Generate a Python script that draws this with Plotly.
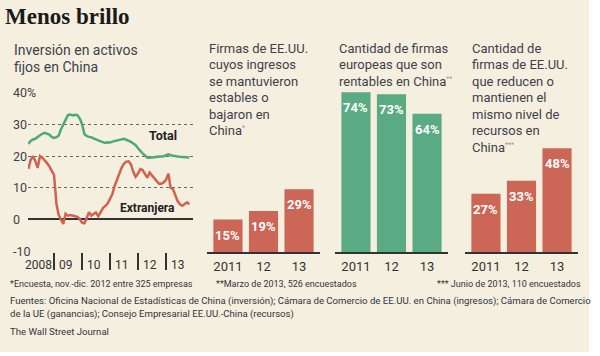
import pandas as pd
import plotly.graph_objects as go

# ---------------- data ----------------
dates = pd.date_range("2008-02-01", periods=70, freq="MS")
total = [23.9, 24.8, 25.3, 25.5, 26.1, 26.7, 27.1, 27.4, 27.1, 26.8, 26.1, 25.8,
         26.0, 26.5, 28.5, 30.0, 32.0, 33.0, 33.2, 32.9, 33.1, 33.0, 32.0, 30.2,
         27.0, 26.4, 26.1, 26.0, 25.6, 25.4, 25.0, 24.7, 24.4, 24.2, 24.4, 24.3,
         24.6, 24.8, 24.9, 25.1, 25.4, 25.5, 25.2, 24.9, 24.5, 24.0, 23.5, 22.5,
         21.5, 20.9, 20.2, 19.6, 19.5, 19.7, 19.7, 19.8, 19.8, 19.9, 20.0, 20.3,
         20.6, 20.3, 20.1, 20.0, 19.9, 19.8, 19.8, 19.8, 19.8, 19.6]
foreign = [16.0, 18.8, 20.0, 18.5, 16.3, 20.0, 19.5, 18.8, 17.8, 16.8, 15.5, 14.0,
           5.0, 1.5, 0.0, -1.4, 1.8, 1.2, 1.4, 1.3, 1.0, 0.8, 0.2, -1.0,
           -1.2, 0.3, 2.3, 1.2, 1.8, 2.2, 1.0, 2.5, 3.6, 4.3, 5.0, 6.5,
           8.0, 10.5, 12.5, 14.5, 16.3, 17.6, 18.3, 18.4, 17.4, 15.0, 13.5, 14.5,
           15.9, 15.6, 14.5, 13.2, 14.8, 13.8, 13.0, 12.1, 11.3, 11.3, 11.7, 12.5,
           14.5, 10.0, 9.6, 7.5, 5.8, 4.8, 4.3, 4.9, 5.4, 4.8]
y_ticks = [-10, 0, 10, 20, 30, 40]
y_tick_text = ["-10", "0", "10", "20", "30", "40%"]
year_ticks = ["2009-01-01", "2010-01-01", "2011-01-01", "2012-01-01", "2013-01-01"]
year_labels = ["09", "10", "11", "12", "13"]
first_year_label = "2008"

bar_years = ["2011", "12", "13"]
us_revenue = [15, 19, 29]
eu_profit = [74, 73, 64]
us_resources = [27, 33, 48]

# ---------------- style ----------------
BG = "#F4EFDE"
GREEN = "#4DA97A"
RED = "#D0634F"
BAR_GREEN = "#5AAA84"
BAR_RED = "#CC6656"
TXT = "#3f3f4e"
SANS = "Roboto, Liberation Sans, Arial, sans-serif"
W, H = 600, 356


def px(x):
    return x / W


def py(y):
    return 1 - y / H


fig = go.Figure()

fig.add_shape(type="rect", xref="paper", yref="paper", x0=0, x1=px(589), y0=py(352), y1=1,
              fillcolor=BG, line_width=0, layer="below")

fig.add_trace(go.Scatter(x=dates, y=total, mode="lines", line=dict(color=GREEN, width=2.5),
                         xaxis="x", yaxis="y", hoverinfo="skip"))
fig.add_trace(go.Scatter(x=dates, y=foreign, mode="lines", line=dict(color=RED, width=2.5),
                         xaxis="x", yaxis="y", hoverinfo="skip"))

fig.add_trace(go.Bar(x=bar_years, y=us_revenue, marker=dict(color=BAR_RED, line_width=0),
                     xaxis="x2", yaxis="y2", hoverinfo="skip"))
fig.add_trace(go.Bar(x=bar_years, y=eu_profit, marker=dict(color=BAR_GREEN, line_width=0),
                     xaxis="x3", yaxis="y3", hoverinfo="skip"))
fig.add_trace(go.Bar(x=bar_years, y=us_resources, marker=dict(color=BAR_RED, line_width=0),
                     xaxis="x4", yaxis="y4", hoverinfo="skip"))

# x range of the line chart (26px = Jan 2008, 28px per year)
day_per_px = 365.25 / 28
t0 = pd.Timestamp("2008-01-01")
xr0 = t0 + pd.Timedelta(days=(28 - 26) * day_per_px)
xr1 = t0 + pd.Timedelta(days=(193 - 26) * day_per_px)

bar_x = dict(type="category", range=[-0.59, 2.59], showline=True, linecolor="#333",
             linewidth=2, ticks="", showgrid=False, zeroline=False,
             tickfont=dict(family=SANS, size=13, color="#333"), ticklabelstandoff=1)
bar_y = dict(range=[0, 80], domain=[py(252), py(252 - 2.16 * 80)], showgrid=False,
             showticklabels=False, zeroline=False, showline=False)

fig.update_layout(
    width=W, height=H, margin=dict(l=0, r=0, t=0, b=0),
    paper_bgcolor="white", plot_bgcolor="rgba(0,0,0,0)", showlegend=False,
    bargap=0.18,
    xaxis=dict(type="date", domain=[px(28), px(193)], range=[xr0, xr1], showgrid=False,
               zeroline=False, showline=False, ticks="outside", tickvals=year_ticks,
               ticklen=17, tickwidth=1.5, tickcolor="#333", showticklabels=False, anchor="y"),
    yaxis=dict(domain=[py(252), py(92)], range=[-10.3, 40.3], tickvals=y_ticks,
               showticklabels=False, gridcolor="#666", griddash="dot", gridwidth=1,
               zeroline=True, zerolinecolor="#333", zerolinewidth=2, anchor="x"),
    xaxis2=dict(domain=[px(207), px(320)], anchor="y2", **bar_x),
    yaxis2=dict(anchor="x2", **bar_y),
    xaxis3=dict(domain=[px(335), px(448)], anchor="y3", **bar_x),
    yaxis3=dict(anchor="x3", **bar_y),
    xaxis4=dict(domain=[px(465), px(578)], anchor="y4", **bar_x),
    yaxis4=dict(anchor="x4", **bar_y),
)

ann = []


def text(x, y, s, size=13, color=TXT, bold=False, family=SANS, xanchor="left", yanchor="middle", bg=None):
    d = dict(xref="paper", yref="paper", x=px(x), y=py(y), text=f"<b>{s}</b>" if bold else s,
             showarrow=False, xanchor=xanchor, yanchor=yanchor,
             font=dict(family=family, size=size, color=color))
    if bg:
        d["bgcolor"] = bg
    ann.append(d)


# title
text(3, 16, "Menos brillo", size=23, color="#1a1a1a", bold=True,
     family="Liberation Serif, DejaVu Serif, serif")

# line chart subtitle
text(12, 50, "Inversión en activos", size=14)
text(12, 67, "fijos en China", size=14)

# y labels for line chart
for v, t in zip(y_ticks, y_tick_text):
    d = dict(xref="paper", yref="y", x=px(12), y=v, text=t, showarrow=False,
             xanchor="left", yanchor="middle", borderpad=0,
             font=dict(family=SANS, size=12.5, color=TXT))
    if t.endswith("%"):
        d["bgcolor"] = BG
    ann.append(d)
# year labels
text(23, 265, first_year_label, size=12, color="#333")
for d, t in zip(year_ticks, year_labels):
    ann.append(dict(xref="x", yref="paper", x=d, y=py(265), text=t, showarrow=False,
                    xanchor="left", yanchor="middle", xshift=3,
                    font=dict(family=SANS, size=12, color="#333")))
# series labels
text(147, 135, "Total", size=12.5, color="#222", bold=True)
text(118, 208, "Extranjera", size=12, color="#222", bold=True)

# bar panel titles
SUP = "<sup><span style='font-size:7px;color:#999'>{}</span></sup>"
p2 = ["Firmas de EE.UU.", "cuyos ingresos", "se mantuvieron", "estables o", "bajaron en",
      "China" + SUP.format("*")]
for i, s in enumerate(p2):
    text(207, 48 + i * 16.6, s, size=13)
p3 = ["Cantidad de firmas", "europeas que son", "rentables en China" + SUP.format("**")]
for i, s in enumerate(p3):
    text(337, 48 + i * 16.6, s, size=13)
p4 = ["Cantidad de", "firmas de EE.UU.", "que reducen o", "mantienen el", "mismo nivel de",
      "recursos en", "China" + SUP.format("***")]
for i, s in enumerate(p4):
    text(470, 48 + i * 16.6, s, size=13)

# bar value labels
for xa, ya, vals in (("x2", "y2", us_revenue), ("x3", "y3", eu_profit), ("x4", "y4", us_resources)):
    for i, v in enumerate(vals):
        ann.append(dict(xref=xa, yref=ya, x=i, y=v, text=f"<b>{v}%</b>", showarrow=False,
                        yanchor="top", yshift=-6,
                        font=dict(family=SANS, size=13, color="white")))

# footnotes
FN = "#333344"
text(8, 284, "*Encuesta, nov.-dic. 2012 entre 325 empresas", size=9, color=FN)
text(214, 284, "**Marzo de 2013, 526 encuestados", size=9, color=FN)
text(583, 284, "*** Junio de 2013, 110 encuestados", size=9, color=FN, xanchor="right")
text(8, 301, "Fuentes: Oficina Nacional de Estadísticas de China (inversión); Cámara de Comercio de EE.UU. en China (ingresos); Cámara de Comercio",
     size=9.6, color=FN)
text(8, 314, "de la UE (ganancias); Consejo Empresarial EE.UU.-China (recursos)", size=9.6, color=FN)
text(8, 331, "The Wall Street Journal", size=9.6, color=FN)

fig.update_layout(annotations=ann)
fig.write_html("out.html", config={"displayModeBar": False},
               post_script="document.body.style.margin='0';document.body.style.padding='0';")
